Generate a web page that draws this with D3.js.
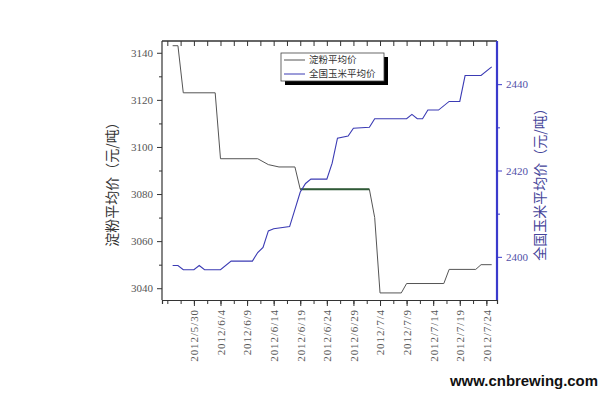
<!DOCTYPE html>
<html><head><meta charset="utf-8">
<script src="https://cdn.jsdelivr.net/npm/d3@7"></script>
<style>body{margin:0;background:#fff}svg{display:block}</style>
</head><body><svg id="c" width="616" height="402"></svg>
<script>
// ---- data ----
const starchDates = ["2012-05-26","2012-05-27","2012-05-28","2012-06-03","2012-06-04","2012-06-11","2012-06-13","2012-06-15","2012-06-18","2012-06-19","2012-07-02","2012-07-03","2012-07-04","2012-07-08","2012-07-09","2012-07-16","2012-07-17","2012-07-22","2012-07-23","2012-07-25"];
const starchValues = [3143,3143,3123,3123,3095,3095,3092.5,3091.5,3091.5,3082,3082,3070,3038,3038,3042,3042,3048,3048,3050,3050];
const cornDates = ["2012-05-26","2012-05-27","2012-05-28","2012-05-30","2012-05-31","2012-06-01","2012-06-04","2012-06-06","2012-06-10","2012-06-11","2012-06-12","2012-06-13","2012-06-14","2012-06-17","2012-06-18","2012-06-19","2012-06-20","2012-06-21","2012-06-24","2012-06-25","2012-06-26","2012-06-28","2012-06-29","2012-07-02","2012-07-03","2012-07-09","2012-07-10","2012-07-11","2012-07-12","2012-07-13","2012-07-15","2012-07-17","2012-07-19","2012-07-20","2012-07-23","2012-07-25"];
const cornValues = [2398,2398,2397,2397,2398,2397,2397,2399,2399,2401,2402.2,2406,2406.5,2407,2411,2415,2417,2418,2418,2421.7,2427.5,2428,2429.8,2430,2432,2432,2433,2432,2432,2434,2434,2436,2436,2442,2442,2444];
const xTickDates = ["2012-05-30","2012-06-04","2012-06-09","2012-06-14","2012-06-19","2012-06-24","2012-06-29","2012-07-04","2012-07-09","2012-07-14","2012-07-19","2012-07-24"];
const xTickLabels = ["2012/5/30","2012/6/4","2012/6/9","2012/6/14","2012/6/19","2012/6/24","2012/6/29","2012/7/4","2012/7/9","2012/7/14","2012/7/19","2012/7/24"];
const leftTicks = [3040,3060,3080,3100,3120,3140];
const leftMinor = [3050,3070,3090,3110,3130];
const rightTicks = [2400,2420,2440];
const rightMinor = [2410,2430];
const seriesNames = ["淀粉平均价","全国玉米平均价"];
const leftTitle = "淀粉平均价（元/吨）";
const rightTitle = "全国玉米平均价（元/吨）";
const watermark = "www.cnbrewing.com";
const highlightRange = ["2012-06-19","2012-07-02"];

// ---- layout ----
const L=162,R=497,T=41,B=300;
const parse=d3.timeParse("%Y-%m-%d");
const svg=d3.select("#c");
const x=d3.scaleTime().domain([parse("2012-05-24"),parse("2012-07-26")]).range([L,R]);
const yL=d3.scaleLinear().domain([3035,3145]).range([B,T]);
const yR=d3.scaleLinear().domain([2390,2450]).range([B,T]);

const starch=starchDates.map((d,i)=>({d:parse(d),v:starchValues[i]}));
const corn=cornDates.map((d,i)=>({d:parse(d),v:cornValues[i]}));

const majors=xTickDates.map(parse);
const dayMs=864e5;
const minorX=[];
for(let k=-2;k<majors.length*2;k++){
  const t=new Date(majors[0].getTime()+k*2.5*dayMs);
  if(t>=x.domain()[0]&&t<=x.domain()[1]) minorX.push(t);
}

const serif="'Liberation Serif','DejaVu Serif',serif";
const cjk="'Noto Sans CJK SC','Noto Sans CJK JP',sans-serif";
const fmt=d3.format("d");

svg.append("line").attr("x1",L).attr("x2",R).attr("y1",T).attr("y2",T).attr("stroke","#333").attr("stroke-width",1.5);
const gTop=svg.append("g").attr("transform",`translate(0,${T})`)
  .call(d3.axisTop(x).tickValues(minorX).tickSize(-5).tickFormat(""));
gTop.select(".domain").remove();
gTop.selectAll("line").attr("stroke","#333");

const gB=svg.append("g").attr("transform",`translate(0,${B})`)
  .call(d3.axisBottom(x).tickValues(minorX).tickSize(4).tickFormat(""));
gB.select(".domain").attr("stroke","#333").attr("stroke-width",1.2);
gB.selectAll("line").attr("stroke","#333");
const gB2=svg.append("g").attr("transform",`translate(0,${B})`)
  .call(d3.axisBottom(x).tickValues(majors).tickSize(6).tickFormat((d,i)=>xTickLabels[i]));
gB2.select(".domain").remove();
gB2.selectAll("line").attr("stroke","#333");
gB2.selectAll("text").attr("font-family",serif).attr("font-size",11).attr("fill","#555")
  .attr("letter-spacing","0.9px")
  .attr("transform","rotate(-90)").attr("text-anchor","end").attr("x",-9).attr("y",0).attr("dy","0.35em");

const gL=svg.append("g").attr("transform",`translate(${L},0)`)
  .call(d3.axisLeft(yL).tickValues(leftTicks).tickSize(5).tickPadding(4).tickFormat(fmt));
gL.select(".domain").attr("stroke","#333").attr("stroke-width",1.2).attr("d",`M0,${T}V${B}`);
gL.selectAll("line").attr("stroke","#333");
gL.selectAll("text").attr("font-family",serif).attr("font-size",11).attr("fill","#555");
const gLm=svg.append("g").attr("transform",`translate(${L},0)`)
  .call(d3.axisLeft(yL).tickValues(leftMinor).tickSize(3).tickFormat(""));
gLm.select(".domain").remove();
gLm.selectAll("line").attr("stroke","#333");

const blue="#3a3acc";
const gR=svg.append("g").attr("transform",`translate(${R},0)`)
  .call(d3.axisRight(yR).tickValues(rightTicks).tickSize(5).tickPadding(4).tickFormat(fmt));
gR.select(".domain").attr("stroke",blue).attr("stroke-width",2.2).attr("d",`M0,${T}V${B}`);
gR.selectAll("line").attr("stroke",blue);
gR.selectAll("text").attr("font-family",serif).attr("font-size",11).attr("fill","#5050a8");
const gRm=svg.append("g").attr("transform",`translate(${R},0)`)
  .call(d3.axisRight(yR).tickValues(rightMinor).tickSize(3).tickFormat(""));
gRm.select(".domain").remove();
gRm.selectAll("line").attr("stroke",blue);

const lineL=d3.line().x(d=>x(d.d)).y(d=>yL(d.v));
const lineR=d3.line().x(d=>x(d.d)).y(d=>yR(d.v));
svg.append("path").datum(starch).attr("d",lineL).attr("fill","none").attr("stroke","#555").attr("stroke-width",1);
const h0=parse(highlightRange[0]),h1=parse(highlightRange[1]);
svg.append("path").datum(starch.filter(p=>p.d>=h0&&p.d<=h1)).attr("d",lineL).attr("fill","none").attr("stroke","#2f5a36").attr("stroke-width",2);
svg.append("path").datum(corn).attr("d",lineR).attr("fill","none").attr("stroke","#3b3bb4").attr("stroke-width",1.1);

// legend
const lg=svg.append("g");
lg.append("rect").attr("x",285).attr("y",57).attr("width",103).attr("height",28).attr("fill","#000");
lg.append("rect").attr("x",281).attr("y",53).attr("width",103).attr("height",28).attr("fill","#fff").attr("stroke","#444").attr("stroke-width",0.8);
const lc=["#555","#3b3bb4"];
seriesNames.forEach((n,i)=>{
  const yy=60+i*14;
  lg.append("line").attr("x1",284).attr("x2",305).attr("y1",yy).attr("y2",yy).attr("stroke",lc[i]).attr("stroke-width",1);
  lg.append("text").attr("x",309).attr("y",yy).attr("dy","0.36em").attr("font-family",cjk).attr("font-size",9.5).attr("fill","#333").text(n);
});

svg.append("text").attr("transform","translate(117,181) rotate(-90)").attr("text-anchor","middle")
  .attr("font-family",cjk).attr("font-size",14).attr("fill","#333").text(leftTitle);
svg.append("text").attr("transform","translate(545,181) rotate(-90)").attr("text-anchor","middle")
  .attr("font-family",cjk).attr("font-size",14).attr("fill","#45459a").text(rightTitle);

svg.append("text").attr("x",450).attr("y",386).attr("font-family","'Liberation Sans',Arial,sans-serif")
  .attr("font-weight","bold").attr("font-size",15).attr("fill","#111")
  .attr("textLength",148).attr("lengthAdjust","spacingAndGlyphs").text(watermark);
</script></body></html>
